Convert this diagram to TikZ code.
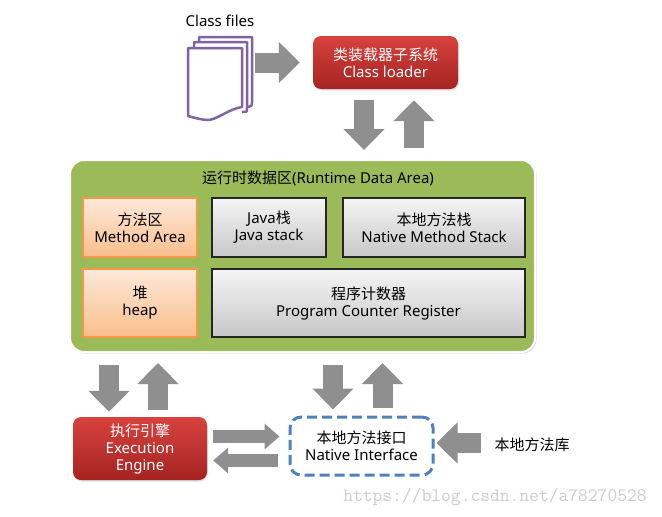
\documentclass[tikz,border=0pt]{standalone}
\usepackage{fontspec}
\setmainfont{Noto Sans}
\newfontfamily\cjk{Noto Sans CJK SC}
\usetikzlibrary{arrows.meta,shadows}
\definecolor{arrgray}{RGB}{143,143,143}
\definecolor{redtop}{RGB}{216,66,62}
\definecolor{redbot}{RGB}{164,36,34}
\definecolor{rdagreen}{RGB}{155,187,89}
\definecolor{orangeline}{RGB}{247,150,70}
\definecolor{orangetop}{RGB}{253,233,217}
\definecolor{orangebot}{RGB}{250,190,140}
\definecolor{nativeblue}{RGB}{79,129,189}
\definecolor{pagepurple}{RGB}{128,100,162}

\begin{document}
\begin{tikzpicture}[x=1pt,y=-1pt,
    every node/.style={font=\fontsize{15}{17}\selectfont, align=center},
    redbox/.style={rounded corners=8pt, top color=redtop, bottom color=redbot, text=white,
      drop shadow={shadow xshift=1pt,shadow yshift=-1.5pt,opacity=.25}},
    orangebox/.style={draw=orangeline, line width=1.5pt, top color=orangetop, bottom color=orangebot,
      minimum width=114pt, inner sep=0pt},
    graybox/.style={draw=black!85, line width=1.2pt, top color=black!4, bottom color=black!22,
      inner sep=0pt},
    blk/.style={draw=arrgray, line width=20pt, -{Triangle[length=21pt,width=40pt]}},
    blksmall/.style={draw=arrgray, line width=13pt, -{Triangle[length=15pt,width=25pt]}},
    page/.style={draw=pagepurple, line width=2.5pt, line join=round}]
    \fill[white] (0,0) rectangle (662,517);
    \useasboundingbox (0,0) rectangle (662,517);

    % class files
    \node (files) at (220,21) {Class files};
    \draw[page] (199,42) -- (199,37) -- (252,37) -- (252,102) .. controls (252,106) .. (247,107);
    \draw[page] (194,48) -- (194,42) -- (247,42) -- (247,108) .. controls (247,112) .. (242,112);
    \draw[page, fill=white] (188,48) -- (242,48) -- (242,107)
      .. controls (228,109) and (216,121) .. (206,120)
      .. controls (198,119) and (192,117) .. (188,116) -- cycle;
    \coordinate (icon) at (255,62.5);

    % class loader
    \node[redbox, minimum width=145pt, minimum height=53pt] (loader) at (385.5,62.5)
      {{\cjk 类装载器子系统}\\Class loader};

    % runtime data area
    \node[draw=white, line width=2pt, fill=rdagreen, rounded corners=14pt,
      minimum width=465pt, minimum height=192pt,
      drop shadow={shadow xshift=1.5pt,shadow yshift=-1.5pt,opacity=.25}] (rda) at (302.5,256) {};
    \node (rdatitle) at (318,178) {{\cjk 运行时数据区}(Runtime Data Area)};
    \node[orangebox, minimum height=59pt] (method) at (140,227.5) {{\cjk 方法区}\\Method Area};
    \node[graybox, minimum width=114pt, minimum height=59pt] (javastack) at (269,227.5)
      {Java{\cjk 栈}\\Java stack};
    \node[graybox, minimum width=182pt, minimum height=59pt] (nstack) at (434,227.5)
      {{\cjk 本地方法栈}\\Native Method Stack};
    \node[orangebox, minimum height=68pt] (heap) at (140,303) {{\cjk 堆}\\heap};
    \node[graybox, minimum width=313pt, minimum height=68pt] (pc) at (368.5,303)
      {{\cjk 程序计数器}\\Program Counter Register};

    % execution engine and native interface
    \node[redbox, minimum width=134pt, minimum height=63pt] (engine) at (140,448.5)
      {{\cjk 执行引擎}\\Execution\\Engine};
    \node[draw=nativeblue, line width=3pt, dash pattern=on 10pt off 5pt, rounded corners=11pt,
      minimum width=143pt, minimum height=58pt] (native) at (361.5,446)
      {{\cjk 本地方法接口}\\Native Interface};
    \node (lib) at (532,445) {\cjk 本地方法库};
    \node[font=\ttfamily\fontsize{19}{20}\selectfont, text=black!20] (mark) at (495,497)
      {https://blog.csdn.net/a78270528};

    % arrows
    \draw[blk] (icon) -- ([xshift=-13pt]loader.west);
    \draw[blk] ([xshift=-21.5pt,yshift=-11pt]loader.south) -- ([xshift=-21.5pt,yshift=9pt]loader.south |- rda.north);
    \draw[blk] ([xshift=28.5pt,yshift=11pt]loader.south |- rda.north) -- ([xshift=28.5pt,yshift=-11pt]loader.south);
    \draw[blk] ([xshift=-31pt,yshift=-12pt]engine.north |- rda.south) -- ([xshift=-31pt,yshift=5pt]engine.north);
    \draw[blk] ([xshift=18pt,yshift=7pt]engine.north) -- ([xshift=18pt,yshift=-10pt]engine.north |- rda.south);
    \draw[blk] ([xshift=-28.5pt,yshift=-12pt]native.north |- rda.south) -- ([xshift=-28.5pt,yshift=6pt]native.north);
    \draw[blk] ([xshift=21pt,yshift=8pt]native.north) -- ([xshift=21pt,yshift=-10pt]native.north |- rda.south);
    \draw[blksmall] ([xshift=6pt,yshift=12pt]engine.east) -- ([xshift=-9pt,yshift=12pt]engine.east -| native.west);
    \draw[blksmall] ([xshift=-11pt,yshift=-12pt]engine.east -| native.west) -- ([xshift=6pt,yshift=-12pt]engine.east);
    \draw[blk] ([xshift=-10pt,yshift=2pt]lib.west) -- ([xshift=2pt,yshift=2pt]native.east |- lib.west);
  \end{tikzpicture}
\end{document}
